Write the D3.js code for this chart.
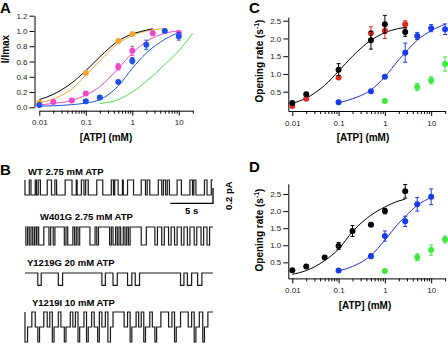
<!DOCTYPE html>
<html>
<head>
<meta charset="utf-8">
<script src="https://cdn.jsdelivr.net/npm/d3@7"></script>
<style>
body { margin: 0; background: #fff; }
svg { display: block; font-family: "Liberation Sans", Arial, sans-serif; }
.tick text { font-size: 8px; fill: #222; }
.ttl { font-weight: bold; font-size: 10px; }
.letter { font-weight: bold; font-size: 15px; }
</style>
</head>
<body>
<div id="fig"></div>
<script>
// ---------- shared ----------
var atpTicks = [0.01, 0.1, 1, 10];
var rateTicks = [0.5, 1, 1.5, 2, 2.5];
var normTicks = [0, 0.2, 0.4, 0.6, 0.8, 1.0, 1.2];

// ---------- panel A : I/Imax vs [ATP], [x, y, err] ----------
var aFitWT     = [[0.01,0.10],[0.02,0.17],[0.05,0.32],[0.1,0.48],[0.2,0.66],[0.5,0.87],[1,0.96],[2,1.01],[2.75,1.03]];
var aFitOrange = [[0.01,0.06],[0.02,0.11],[0.05,0.24],[0.1,0.42],[0.2,0.61],[0.5,0.84],[1,0.94],[2,1.0],[5,1.03]];
var aFitPink   = [[0.01,0.03],[0.02,0.05],[0.05,0.09],[0.1,0.16],[0.2,0.27],[0.5,0.51],[1,0.71],[2,0.86],[5,0.97],[10,1.0]];
var aFitBlue   = [[0.01,0.015],[0.02,0.02],[0.05,0.035],[0.1,0.055],[0.2,0.1],[0.5,0.28],[1,0.51],[2,0.71],[5,0.89],[10,0.98]];
var aFitGreen  = [[0.2,0.05],[0.5,0.1],[1,0.2],[2,0.34],[5,0.56],[10,0.74],[20,0.97]];
var aOrangePts = [[0.01,0.06,0],[0.1,0.45,0.02],[0.5,0.87,0.02],[1,0.96,0.02]];
var aPinkPts   = [[0.02,0.07,0],[0.05,0.09,0],[0.1,0.18,0.02],[0.5,0.53,0.04],[1,0.74,0.06],[2.75,0.97,0.03],[10,0.97,0.03]];
var aBluePts   = [[0.01,0.03,0],[0.1,0.08,0],[0.2,0.13,0],[0.5,0.33,0],[1,0.61,0.04],[2,0.82,0.06],[5,1.0,0],[10,0.93,0.05]];

// ---------- panel C : opening rate (s-1) ----------
var cFitWT    = [[0.01,0.17],[0.02,0.32],[0.05,0.68],[0.1,1.08],[0.2,1.5],[0.5,1.95],[1,2.16],[2,2.28],[2.75,2.31]];
var cFitBlue  = [[0.1,0.19],[0.2,0.3],[0.5,0.55],[1,0.92],[2,1.4],[2.75,1.6],[5,1.95],[10,2.22],[20,2.4]];
var cRedPts   = [[0.01,0.1,0],[0.02,0.3,0.04],[0.1,0.9,0],[0.5,2.15,0.18],[1,2.22,0.22],[2.75,2.4,0.1]];
var cBlackPts = [[0.01,0.18,0],[0.02,0.43,0.05],[0.1,1.12,0.17],[0.5,1.95,0.25],[1,2.4,0.25],[2.75,2.18,0.12]];
var cBluePts  = [[0.1,0.2,0],[0.5,0.51,0.05],[1,0.92,0],[2.75,1.6,0.27],[5,2.07,0.1],[10,2.29,0.1],[20,2.26,0.15]];
var cGreenPts = [[1,0.24,0],[5,0.63,0.1],[10,0.82,0.1],[20,1.28,0.2]];

// ---------- panel D : opening rate (s-1) ----------
var dFitWT    = [[0.01,0.15],[0.02,0.26],[0.05,0.55],[0.1,0.89],[0.2,1.4],[0.5,1.88],[1,2.12],[2,2.3],[2.75,2.35]];
var dFitBlue  = [[0.1,0.25],[0.2,0.38],[0.5,0.7],[1,1.15],[2,1.65],[2.75,1.84],[5,2.17],[10,2.4]];
var dBlackPts = [[0.01,0.27,0],[0.02,0.38,0],[0.05,0.64,0.03],[0.1,0.98,0.1],[0.2,1.42,0.16],[0.5,1.6,0.05],[1,2.0,0.08],[2.75,2.58,0.2]];
var dBluePts  = [[0.1,0.26,0],[0.5,0.68,0.07],[1,1.27,0.15],[2.75,1.7,0.15],[5,2.2,0.2],[10,2.42,0.23]];
var dGreenPts = [[1,0.25,0],[5,0.65,0.1],[10,0.86,0.15],[20,1.17,0.1]];

// ---------- panel B : single channel traces, openings [start s, end s, level] ----------
var traceSeconds = 22;
var wtEvents = [[0.0,0.5,1],[0.7,1.2,1],[1.35,1.55,1],[1.8,2.6,1],[3.1,3.5,1],[3.7,4.7,1],[5.5,6.0,1],[6.1,6.6,1],
  [6.9,7.1,1],[7.4,8.4,1],[9.1,10.1,1],[10.35,10.5,1],[10.9,11.4,1],[11.5,12.0,1],[12.7,13.6,1],[14.1,14.3,1],
  [14.6,15.6,1],[16.0,16.2,1],[16.45,16.65,1],[16.9,17.8,1],[18.3,19.3,1],[19.6,19.75,1],[20.0,21.0,1],[21.3,21.8,1]];
var w401gEvents = [[0.1,0.3,1],[0.5,0.7,1],[0.9,1.1,1],[1.3,1.4,1],[1.6,2.2,1],[2.8,3.0,1],[3.3,3.5,1],[4.6,4.8,1],
  [5.0,5.6,1],[5.8,6.0,1],[6.2,6.4,1],[7.6,8.2,1],[8.4,8.6,1],[9.9,10.1,1],[10.3,10.6,1],[10.8,11.0,1],[11.2,11.5,1],
  [11.7,11.9,1],[12.1,12.3,1],[13.6,14.2,1],[15.2,15.5,1],[16.0,16.3,1],[16.8,17.1,1],[17.5,17.8,1],[18.3,18.6,1],
  [19.0,19.3,1],[19.8,20.1,1],[20.6,20.9,1],[21.3,21.6,1]];
var y1219gEvents = [[1.5,1.9,1],[3.9,4.4,1],[9.0,9.4,1],[10.3,10.8,1],[12.0,12.5,1],[12.9,13.4,1],[18.2,18.6,1],[19.0,19.5,1],[20.2,20.7,1]];
var y1219iEvents = [[0.0,0.3,2],[0.3,0.8,1],[1.2,1.5,1],[1.5,1.7,2],[1.7,2.2,1],[2.6,2.9,1],[3.2,3.4,2],[3.4,3.9,1],
  [4.2,4.6,1],[4.6,4.8,2],[4.8,5.3,1],[5.6,5.9,1],[6.2,6.4,2],[6.4,6.9,1],[7.2,7.4,2],[7.4,7.8,1],[8.1,8.5,1],
  [8.5,8.7,2],[9.0,9.4,1],[9.7,10.0,2],[10.0,10.3,1],[11.6,12.0,1],[12.3,12.5,2],[12.5,13.0,1],[13.3,13.6,1],
  [13.9,14.1,2],[14.1,14.6,1],[14.9,15.2,1],[15.2,15.4,2],[15.4,15.9,1],[16.8,17.2,1],[17.5,17.7,2],[17.7,18.2,1],
  [19.1,19.5,1],[19.8,20.0,2],[20.0,20.4,1],[20.8,21.0,2],[21.0,21.4,1]];
var traceNames = ["WT  2.75 mM ATP", "W401G 2.75 mM ATP", "Y1219G 20 mM ATP", "Y1219I 10 mM ATP"];
var traceAmps = [0.2, 0.24, 0.165, 0.2]; // pA per level

var svg = d3.select("#fig").append("svg")
    .attr("width", 448)
    .attr("height", 353);

svg.append("rect").attr("width", 448).attr("height", 353).attr("fill", "#fff");

function drawLogPanel(p)
{
    var x = d3.scaleLog().domain(p.xDomain).range(p.xRange);
    var y = d3.scaleLinear().domain(p.yDomain).range(p.yRange);
    var g = svg.append("g");

    var minor = [];
    atpTicks.forEach(function(d) {
        for (var k = 2; k < 10; k++) {
            var v = +(d * k).toPrecision(3);
            if (v <= p.xDomain[1]) minor.push(v);
        }
    });

    // x axis (major + minor ticks)
    g.append("g")
        .attr("transform", "translate(0," + p.xAxisY + ")")
        .call(d3.axisBottom(x).tickValues(atpTicks).tickFormat(function(d) { return String(d); })
            .tickSize(5).tickSizeOuter(0).tickPadding(4));
    g.append("g")
        .attr("transform", "translate(0," + p.xAxisY + ")")
        .call(d3.axisBottom(x).tickValues(minor).tickFormat("").tickSize(3))
        .select(".domain").remove();

    // y axis
    g.append("g")
        .attr("transform", "translate(" + p.yAxisX + ",0)")
        .call(d3.axisLeft(y).tickValues(p.yTicks).tickFormat(d3.format(".1f"))
            .tickSize(5).tickSizeOuter(0).tickPadding(2));

    g.selectAll(".domain, .tick line").attr("stroke", "#000");

    var line = d3.line()
        .x(function(d) { return x(d[0]); })
        .y(function(d) { return y(d[1]); })
        .curve(d3.curveMonotoneX);

    p.fits.forEach(function(f) {
        g.append("path")
            .datum(f.data)
            .attr("fill", "none")
            .attr("stroke", f.color)
            .attr("stroke-width", 1)
            .attr("d", line);
    });

    p.points.forEach(function(s) {
        var pg = g.append("g").attr("fill", s.color).attr("stroke", s.color);
        var err = s.data.filter(function(d) { return d[2] > 0; });
        pg.selectAll("line.bar").data(err).enter().append("line")
            .attr("x1", function(d) { return x(d[0]); })
            .attr("x2", function(d) { return x(d[0]); })
            .attr("y1", function(d) { return y(d[1] - d[2]); })
            .attr("y2", function(d) { return y(d[1] + d[2]); });
        [-1, 1].forEach(function(sg) {
            pg.selectAll("line.cap" + sg).data(err).enter().append("line")
                .attr("x1", function(d) { return x(d[0]) - 2; })
                .attr("x2", function(d) { return x(d[0]) + 2; })
                .attr("y1", function(d) { return y(d[1] + sg * d[2]); })
                .attr("y2", function(d) { return y(d[1] + sg * d[2]); });
        });
        pg.selectAll("circle").data(s.data).enter().append("circle")
            .attr("cx", function(d) { return x(d[0]); })
            .attr("cy", function(d) { return y(d[1]); })
            .attr("r", 3)
            .attr("stroke", "none");
    });

    // axis titles
    g.append("text").attr("class", "ttl")
        .attr("x", p.xTitle[0]).attr("y", p.xTitle[1])
        .attr("text-anchor", "middle")
        .text("[ATP] (mM)");

    var yt = g.append("text").attr("class", "ttl")
        .attr("transform", "translate(" + p.yTitle[0] + "," + p.yTitle[1] + ") rotate(-90)")
        .attr("text-anchor", "middle");
    if (p.yLabel == "rate") {
        yt.append("tspan").text("Opening rate (s");
        yt.append("tspan").attr("dy", -4).attr("font-size", "7px").text("-1");
        yt.append("tspan").attr("dy", 4).text(")");
    } else {
        yt.text("I/Imax");
    }
}

// Panel A
drawLogPanel({
    xDomain: [0.01, 20], xRange: [39.3, 192.8], xAxisY: 110.7,
    yDomain: [0, 1.2], yRange: [107.3, 15.7], yAxisX: 34.5, yTicks: normTicks,
    xTitle: [106, 141], yTitle: [9, 49], yLabel: "norm",
    fits: [
        {data: aFitGreen, color: "#4ee04e"},
        {data: aFitBlue, color: "#2255e0"},
        {data: aFitPink, color: "#ee48c8"},
        {data: aFitOrange, color: "#f5a530"},
        {data: aFitWT, color: "#000"}
    ],
    points: [
        {data: aOrangePts, color: "#f5a530"},
        {data: aPinkPts, color: "#ee48c8"},
        {data: aBluePts, color: "#1f4fe6"}
    ]
});

// Panel C
drawLogPanel({
    xDomain: [0.0082, 20], xRange: [288.3, 445.1], xAxisY: 111,
    yDomain: [-0.045, 2.6], yRange: [111.05, 17.15], yAxisX: 288.3, yTicks: rateTicks,
    xTitle: [363, 141], yTitle: [263, 61], yLabel: "rate",
    fits: [
        {data: cFitWT, color: "#000"},
        {data: cFitBlue, color: "#2233cc"}
    ],
    points: [
        {data: cRedPts, color: "#e02a24"},
        {data: cBlackPts, color: "#000"},
        {data: cBluePts, color: "#1a3ce8"},
        {data: cGreenPts, color: "#3ee83e"}
    ]
});

// Panel D
drawLogPanel({
    xDomain: [0.0082, 20], xRange: [288.3, 445.1], xAxisY: 278.4,
    yDomain: [0.03, 2.8], yRange: [278.4, 183.8], yAxisX: 288.3, yTicks: rateTicks,
    xTitle: [365, 308.5], yTitle: [263, 230], yLabel: "rate",
    fits: [
        {data: dFitWT, color: "#000"},
        {data: dFitBlue, color: "#2233cc"}
    ],
    points: [
        {data: dBlackPts, color: "#000"},
        {data: dBluePts, color: "#1a3ce8"},
        {data: dGreenPts, color: "#3ee83e"}
    ]
});

// Panel B traces
var tScale = d3.scaleLinear().domain([0, traceSeconds]).range([25, 213]);
var traceRows = [
    {events: wtEvents, base: 180, labelX: 28, labelY: 175},
    {events: w401gEvents, base: 227, labelX: 40, labelY: 220},
    {events: y1219gEvents, base: 273, labelX: 27, labelY: 266},
    {events: y1219iEvents, base: 312, labelX: 32, labelY: 306}
];

traceRows.forEach(function(row, ri) {
    var iScale = d3.scaleLinear().domain([0, 0.2]).range([row.base, row.base + 15]);
    var amp = traceAmps[ri];
    var pts = [[0, 0]], level = 0, end = 0;
    row.events.forEach(function(e) {
        var a = amp * e[2];
        if (e[0] > end && level !== 0) { pts.push([end, 0]); level = 0; }
        pts.push([e[0], level], [e[0], a], [e[1], a]);
        level = a;
        end = e[1];
    });
    pts.push([end, 0], [traceSeconds, 0]);

    svg.append("path")
        .datum(pts)
        .attr("fill", "none")
        .attr("stroke", "#1a1a1a")
        .attr("stroke-width", 1.2)
        .attr("d", d3.line().x(function(d) { return tScale(d[0]); }).y(function(d) { return iScale(d[1]); }));

    svg.append("text").attr("class", "ttl")
        .attr("x", row.labelX).attr("y", row.labelY)
        .style("font-size", "9.5px")
        .text(traceNames[ri]);
});

// scale bar: 5 s, 0.2 pA
var barI = d3.scaleLinear().domain([0, 0.2]).range([203.3, 188]);
svg.append("path")
    .attr("fill", "none").attr("stroke", "#000").attr("stroke-width", 1.3)
    .attr("d", "M" + tScale(traceSeconds - 5) + "," + barI(0) + "H" + tScale(traceSeconds) + "V" + barI(0.2));
svg.append("text").attr("class", "ttl").style("font-size", "9.5px")
    .attr("x", tScale(traceSeconds - 2.5)).attr("y", 214).attr("text-anchor", "middle").text("5 s");
svg.append("text").attr("class", "ttl").style("font-size", "9.5px")
    .attr("transform", "translate(232," + barI(0.1) + ") rotate(-90)")
    .attr("text-anchor", "middle").text("0.2 pA");

// panel letters
[["A", 0, 13], ["B", 0, 175], ["C", 249, 13], ["D", 249, 172]].forEach(function(l) {
    svg.append("text").attr("class", "letter").attr("x", l[1]).attr("y", l[2]).text(l[0]);
});
</script>
</body>
</html>
